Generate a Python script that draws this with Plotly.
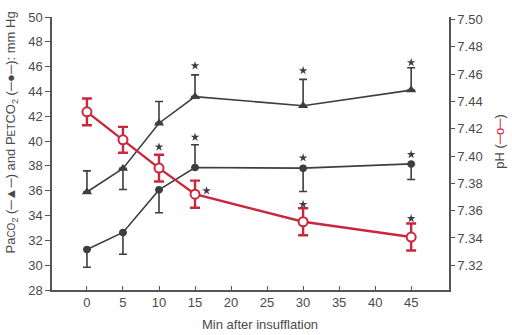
import plotly.graph_objects as go

# ---- data ----
minutes = [0, 5, 10, 15, 30, 45]

# PaCO2 (triangles), mm Hg
paco2 = [35.9, 37.8, 41.44, 43.58, 42.85, 44.11]
paco2_err_up = [1.7, 0, 1.75, 1.76, 2.12, 1.8]
paco2_err_dn = [0, 1.7, 0, 0, 0, 0]

# PETCO2 (filled circles), mm Hg
petco2 = [31.27, 32.64, 36.07, 37.87, 37.82, 38.16]
petco2_err_up = [0, 0, 0, 1.84, 0, 0]
petco2_err_dn = [1.44, 1.76, 1.84, 0, 1.88, 1.26]

# pH (open red circles)
ph = [7.4324, 7.4119, 7.3912, 7.3721, 7.3519, 7.3407]
ph_err = [0.0098, 0.0095, 0.0098, 0.0099, 0.0099, 0.0099]

# significance stars
star_left_x = [15, 30, 45, 15, 30, 45]
star_left_y = [46.07, 45.68, 46.33, 40.31, 38.65, 38.92]
star_ph_x = [10, 16.6, 30, 45]
star_ph_y = [7.4067, 7.3746, 7.3646, 7.3543]

x_ticks = [0, 5, 10, 15, 20, 25, 30, 35, 40, 45]
left_ticks = list(range(28, 51, 2))
right_ticks = [7.30, 7.32, 7.34, 7.36, 7.38, 7.40, 7.42, 7.44, 7.46, 7.48, 7.50]

DARK = "#3b3e43"
RED = "#c8283c"
AXIS = "#555555"
TXT = "#4a4a4a"
FONT = "Liberation Sans, Arial, sans-serif"

fig = go.Figure()

fig.add_trace(go.Scatter(
    x=minutes, y=paco2, mode="lines+markers",
    line=dict(color=DARK, width=1.6),
    marker=dict(symbol="triangle-up", size=9, color=DARK),
    error_y=dict(type="data", symmetric=False, array=paco2_err_up,
                 arrayminus=paco2_err_dn, color=DARK, thickness=1.6, width=4),
    yaxis="y", showlegend=False))

fig.add_trace(go.Scatter(
    x=minutes, y=petco2, mode="lines+markers",
    line=dict(color=DARK, width=1.6),
    marker=dict(symbol="circle", size=7.5, color=DARK),
    error_y=dict(type="data", symmetric=False, array=petco2_err_up,
                 arrayminus=petco2_err_dn, color=DARK, thickness=1.6, width=4),
    yaxis="y", showlegend=False))

fig.add_trace(go.Scatter(
    x=minutes, y=ph, mode="lines+markers",
    line=dict(color=RED, width=2.4),
    marker=dict(symbol="circle", size=9, color="white", line=dict(color=RED, width=2)),
    error_y=dict(type="data", array=ph_err, color=RED, thickness=2.4, width=5),
    yaxis="y2", showlegend=False))

fig.add_trace(go.Scatter(
    x=star_left_x, y=star_left_y, mode="markers",
    marker=dict(symbol="star", size=6.5, color=DARK),
    yaxis="y", showlegend=False))

fig.add_trace(go.Scatter(
    x=star_ph_x, y=star_ph_y, mode="markers",
    marker=dict(symbol="star", size=6.5, color=DARK),
    yaxis="y2", showlegend=False))

fig.update_layout(
    width=512, height=335,
    margin=dict(l=52, r=63, t=10, b=45),
    paper_bgcolor="white", plot_bgcolor="white",
    font=dict(family=FONT, color=TXT, size=13),
    xaxis=dict(range=[-4.85, 50.25], tickvals=x_ticks, ticks="inside", ticklen=4,
               tickcolor=AXIS, tickwidth=1.2, showline=True, linecolor=AXIS, linewidth=1.5,
               showgrid=False, zeroline=False, tickfont=dict(size=13, color=TXT)),
    yaxis=dict(range=[28, 50], tickvals=left_ticks, ticks="outside", ticklen=5,
               tickcolor=AXIS, tickwidth=1.2, showline=True, linecolor=AXIS, linewidth=1.5,
               showgrid=False, zeroline=False, tickfont=dict(size=13, color=TXT)),
    yaxis2=dict(range=[7.3019, 7.5019], tickvals=right_ticks,
                ticktext=[f"{v:.2f}" for v in right_ticks],
                overlaying="y", side="right", ticks="outside", ticklen=4,
                tickcolor=AXIS, tickwidth=1.2, showline=True, linecolor=AXIS, linewidth=1.5,
                showgrid=False, zeroline=False, tickfont=dict(size=13, color=TXT)),
)

left_title = ("Pa<span style='font-size:10px'>CO</span><sub>2</sub> (─▲─) and "
              "P<span style='font-size:10px'>ET</span>CO<sub>2</sub> (─●─): mm Hg")
fig.add_annotation(text=left_title, xref="paper", yref="paper", x=-0.1008, y=0.5768,
                   textangle=-90, showarrow=False, xanchor="center", yanchor="middle",
                   font=dict(size=13, color=TXT, family=FONT))
fig.add_annotation(text="pH (<span style='color:%s'>─o─</span>)" % RED,
                   xref="paper", yref="paper", x=1.128, y=0.546,
                   textangle=-90, showarrow=False, xanchor="center", yanchor="middle",
                   font=dict(size=13, color=TXT, family=FONT))
fig.add_annotation(text="Min after insufflation", xref="paper", yref="paper",
                   x=0.525, y=-0.125, showarrow=False, xanchor="center", yanchor="middle",
                   font=dict(size=13, color=TXT, family=FONT))

fig.write_html("out.html")
